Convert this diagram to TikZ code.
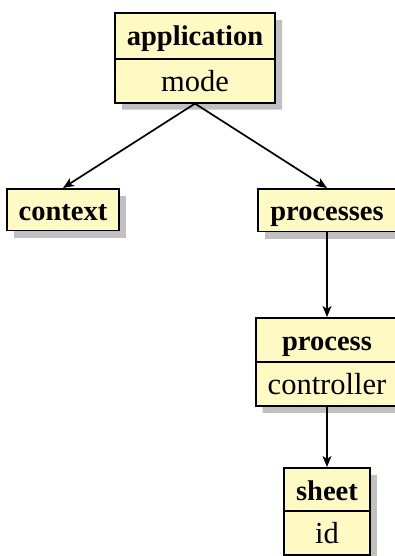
\documentclass[tikz,border=0pt]{standalone}
\usepackage{fontspec}
\setmainfont{Liberation Serif}
\usetikzlibrary{shapes.multipart,shadows,arrows.meta}
\definecolor{boxfill}{RGB}{255,249,196}
\definecolor{shadowgray}{RGB}{192,192,192}
\newcommand{\tstrut}{\rule[-8pt]{0pt}{34pt}}
\newcommand{\bstrut}{\rule[-5pt]{0pt}{31pt}}
\newcommand{\hd}[1]{{\fontsize{28.5}{34}\selectfont\bfseries #1}}
\newcommand{\bd}[1]{{\fontsize{30.5}{36}\selectfont #1}}
\begin{document}
\begin{tikzpicture}[x=1pt,y=-1pt,
  boxbase/.style={draw=black, line width=1.8pt, fill=boxfill, inner xsep=12pt, inner ysep=5.3pt, anchor=north,
    drop shadow={shadow xshift=7pt,shadow yshift=-7pt,fill=shadowgray,opacity=1}},
  cls/.style={boxbase, rectangle split, rectangle split parts=2},
  single/.style={boxbase, rectangle},
  conn/.style={-{Stealth[length=11pt,width=9pt,inset=3pt]}, line width=1.7pt}
]
\clip (0,0) rectangle (395,556);
\fill[white] (0,0) rectangle (395,556);
\node[cls] (app) at (195,12) {\hd{application}\tstrut\nodepart{two}\bd{mode}\bstrut};
\node[single] (ctx) at (63,188) {\hd{context}\bstrut};
\node[single] (pcs) at (327,188) {\hd{processes}\bstrut};
\node[cls] (proc) at (327,317) {\hd{process}\bstrut\nodepart{two}\bd{controller}\bstrut};
\node[cls] (sheet) at (327,467) {\hd{sheet}\bstrut\nodepart{two}\bd{id}\bstrut};
\draw[conn] (app.south) -- (ctx.north);
\draw[conn] (app.south) -- (pcs.north);
\draw[conn] (pcs.south) -- (proc.north);
\draw[conn] (proc.south) -- (sheet.north);
\end{tikzpicture}
\end{document}
